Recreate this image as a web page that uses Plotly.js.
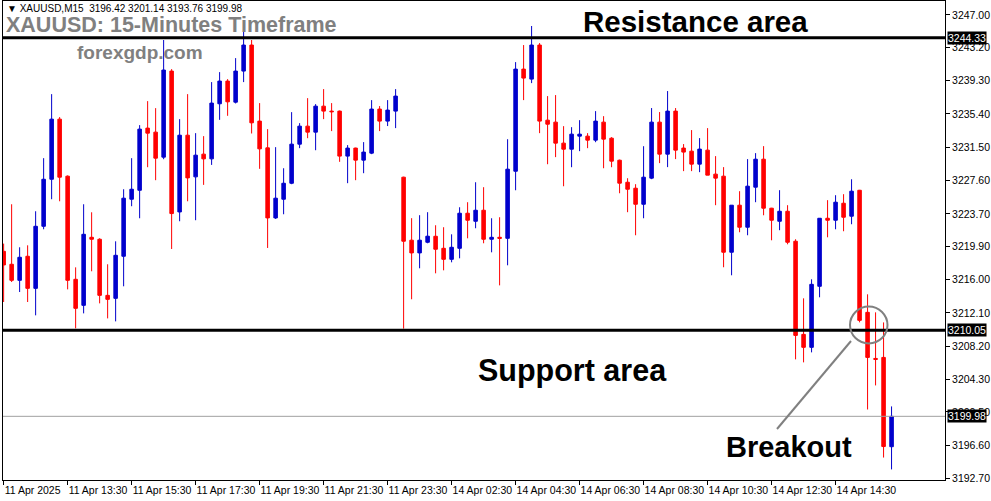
<!DOCTYPE html>
<html>
<head>
<meta charset="utf-8">
<script src="https://cdn.plot.ly/plotly-3.0.1.min.js"></script>
<style>
html,body{margin:0;padding:0;background:#fff;}
#chart{width:991px;height:501px;}
</style>
</head>
<body>
<div id="chart"></div>
<script>
// ---- data (XAUUSD M15 candles) ----
const opens = [3219.31,3217.79,3215.91,3218.73,3214.97,3222.24,3227.75,3234.79,3228.11,3216.03,
3212.98,3220.95,3220.72,3214.15,3213.80,3218.73,3225.41,3226.46,3233.74,3233.27,
3230.34,3240.42,3223.92,3232.91,3228.03,3230.69,3230.14,3236.59,3239.25,3236.78,
3240.42,3243.47,3234.56,3231.43,3223.22,3225.41,3227.28,3231.86,3233.97,3233.27,
3236.31,3235.73,3235.73,3230.46,3231.40,3229.99,3230.81,3235.97,3234.56,3235.73,
3227.99,3220.61,3219.12,3220.37,3221.07,3219.66,3218.37,3219.66,3223.77,3222.83,
3224.12,3220.72,3220.95,3220.83,3228.69,3240.65,3239.48,3243.47,3234.67,3234.44,
3231.98,3231.27,3232.80,3232.80,3232.33,3234.44,3232.56,3229.98,3227.40,3226.70,
3224.82,3227.88,3234.44,3230.69,3235.73,3231.40,3231.04,3229.52,3231.16,3228.35,
3228.11,3219.20,3224.71,3222.13,3226.82,3230.10,3224.36,3222.83,3224.00,3220.49,
3209.58,3208.06,3215.21,3223.18,3222.95,3224.94,3223.42,3226.46,3212.16,3206.76,
3206.88,3196.42];
const highs = [3220.21,3224.82,3219.78,3220.01,3224.00,3230.22,3237.72,3235.03,3228.20,3217.43,
3224.82,3223.88,3220.84,3217.79,3220.48,3226.58,3230.22,3234.09,3236.90,3236.08,
3244.06,3240.65,3234.79,3237.72,3233.15,3232.80,3239.13,3240.30,3239.48,3241.94,
3245.34,3244.06,3236.67,3233.62,3231.51,3229.04,3235.61,3234.32,3237.25,3236.55,
3238.31,3236.67,3235.80,3231.75,3231.45,3232.10,3237.02,3236.32,3237.02,3238.31,
3228.05,3223.19,3223.54,3223.89,3222.36,3222.13,3221.30,3224.47,3225.06,3227.40,
3226.82,3223.18,3223.30,3232.44,3241.47,3243.47,3245.70,3243.70,3237.49,3237.61,
3233.97,3233.85,3234.67,3233.15,3235.73,3235.14,3232.68,3230.05,3227.87,3227.17,
3231.62,3236.09,3235.62,3238.08,3236.09,3231.87,3233.51,3232.57,3233.74,3230.46,
3229.17,3224.71,3226.35,3230.11,3230.81,3231.63,3224.40,3226.47,3224.71,3220.72,
3213.80,3216.03,3223.18,3225.30,3225.88,3226.00,3227.75,3226.50,3214.27,3212.16,
3210.98,3201.14];
const lows = [3213.37,3215.71,3214.54,3213.37,3211.81,3221.89,3225.41,3225.17,3214.85,3210.28,
3212.04,3216.97,3213.21,3211.45,3211.10,3215.21,3224.59,3223.18,3229.16,3227.64,
3230.10,3219.58,3222.83,3225.17,3222.95,3227.09,3229.43,3234.71,3235.18,3236.63,
3239.13,3233.11,3228.97,3219.70,3223.10,3223.65,3227.17,3231.39,3232.56,3231.15,
3234.79,3233.39,3229.79,3227.29,3227.64,3228.46,3230.69,3233.39,3233.98,3233.74,
3210.25,3213.69,3217.32,3220.25,3216.73,3217.08,3218.02,3218.49,3220.83,3222.01,
3220.25,3219.19,3215.32,3217.67,3226.46,3237.02,3239.01,3233.15,3229.51,3230.34,
3226.93,3229.16,3231.04,3231.39,3232.09,3229.04,3229.16,3226.11,3223.89,3221.19,
3223.18,3227.76,3229.64,3229.17,3230.11,3228.70,3228.70,3228.58,3228.23,3224.71,
3217.44,3216.50,3221.54,3221.19,3225.06,3223.53,3220.60,3221.78,3220.13,3206.65,
3206.30,3207.47,3213.92,3220.95,3221.89,3221.66,3222.48,3210.99,3200.78,3203.60,
3195.15,3193.76];
const closes = [3217.71,3215.91,3218.61,3214.97,3222.24,3227.75,3234.79,3227.99,3215.91,3212.63,
3221.30,3220.72,3214.15,3213.68,3218.84,3225.53,3226.58,3233.62,3233.15,3230.22,
3240.54,3223.73,3232.91,3227.91,3230.57,3230.14,3236.67,3239.25,3236.82,3240.42,
3243.47,3234.36,3231.31,3223.22,3225.53,3227.28,3231.86,3233.97,3233.27,3236.31,
3235.73,3235.66,3230.46,3231.40,3229.99,3230.93,3235.97,3234.56,3235.85,3237.49,
3220.49,3219.12,3220.61,3221.08,3219.55,3218.37,3219.78,3223.77,3222.95,3224.12,
3220.72,3220.95,3220.83,3228.93,3240.65,3239.60,3243.47,3234.56,3234.20,3231.98,
3231.27,3233.03,3233.03,3232.33,3234.56,3232.45,3229.87,3227.29,3226.58,3224.82,
3227.99,3234.44,3230.69,3235.73,3231.16,3230.93,3229.52,3231.28,3228.23,3227.88,
3219.20,3224.71,3222.13,3226.94,3230.10,3224.36,3222.95,3224.00,3220.37,3209.46,
3208.06,3215.44,3223.18,3222.95,3225.06,3223.30,3226.35,3211.22,3206.88,3206.65,
3196.44,3199.98];

const tickIndex = [0,8,16,24,32,40,48,56,64,72,80,88,96,104];
const tickText = ["11 Apr 2025","11 Apr 13:30","11 Apr 15:30","11 Apr 17:30","11 Apr 19:30",
"11 Apr 21:30","11 Apr 23:30","14 Apr 02:30","14 Apr 04:30","14 Apr 06:30","14 Apr 08:30",
"14 Apr 10:30","14 Apr 12:30","14 Apr 14:30"];
const priceTicks = [3247.00,3243.20,3239.30,3235.40,3231.50,3227.60,3223.70,3219.90,3216.00,
3212.10,3208.20,3204.30,3200.50,3196.60,3192.70];

const resistanceLevel = 3244.33;
const supportLevel = 3210.05;
const lastPrice = 3199.98;
const symbol = "XAUUSD,M15";

// ---- build ----
const idx = opens.map((_, i) => i);
const n = opens.length;
const FONT = "Liberation Sans, Arial, sans-serif";

// pixel helpers for text placement (plot area: x 3..945, y 1..480)
const W = 942, H = 479, L = 3, T = 1;
const px = x => (x - L) / W;
const py = y => 1 - (y - T) / H;

const trace = {
  type: 'candlestick',
  x: idx, open: opens, high: highs, low: lows, close: closes,
  increasing: {line: {color: '#0000cc', width: 1}, fillcolor: '#0000cc'},
  decreasing: {line: {color: '#ff0000', width: 1}, fillcolor: '#ff0000'},
  whiskerwidth: 0,
  hoverinfo: 'skip'
};

const last = n - 1;
const header = "\u25BC " + symbol + "  " + opens[last].toFixed(2) + " " + highs[last].toFixed(2) +
  " " + lows[last].toFixed(2) + " " + closes[last].toFixed(2);

function tag(v) {
  return {xref: 'paper', yref: 'y', x: 1, y: v, xanchor: 'left', yanchor: 'middle',
    xshift: 2, text: v.toFixed(2), showarrow: false, bgcolor: '#000000',
    borderpad: 0, font: {family: FONT, size: 10.5, color: '#ffffff'}};
}

const layout = {
  width: 991, height: 501,
  margin: {l: L, r: 991 - L - W, t: T, b: 501 - T - H},
  paper_bgcolor: '#ffffff', plot_bgcolor: '#ffffff',
  showlegend: false, hovermode: false,
  boxgap: 0.37,
  font: {family: FONT, size: 10.5, color: '#000000'},
  xaxis: {
    range: [-0.08, 117.68], rangeslider: {visible: false},
    showgrid: false, zeroline: false,
    showline: true, linecolor: '#000000', linewidth: 1, mirror: true,
    tickmode: 'array', tickvals: tickIndex, ticktext: tickText,
    tickangle: 0, automargin: false,
    ticks: 'outside', ticklen: 4, tickcolor: '#000000',
    ticklabelposition: 'outside right', ticklabelstandoff: 0,
    tickfont: {family: FONT, size: 10.5, color: '#000000'}
  },
  yaxis: {
    side: 'right', range: [3192.52, 3248.63],
    showgrid: false, zeroline: false, automargin: false,
    showline: true, linecolor: '#000000', linewidth: 1, mirror: true,
    tickmode: 'array', tickvals: priceTicks, tickformat: '.2f',
    ticks: 'outside', ticklen: 4, tickcolor: '#000000',
    tickfont: {family: FONT, size: 10.5, color: '#000000'}
  },
  shapes: [
    {type: 'line', xref: 'paper', yref: 'y', x0: 0, x1: 1, y0: lastPrice, y1: lastPrice,
      line: {color: '#a0a0a0', width: 1}},
    {type: 'line', xref: 'paper', yref: 'y', x0: 0, x1: 1, y0: resistanceLevel, y1: resistanceLevel,
      line: {color: '#000000', width: 3}},
    {type: 'line', xref: 'paper', yref: 'y', x0: 0, x1: 1, y0: supportLevel, y1: supportLevel,
      line: {color: '#000000', width: 3}},
    {type: 'circle', xref: 'paper', yref: 'paper',
      x0: px(850), x1: px(887.5), y0: py(343.5), y1: py(306.5),
      line: {color: '#808080', width: 2}},
    {type: 'line', xref: 'paper', yref: 'paper',
      x0: px(777), y0: py(429), x1: px(851), y1: py(341),
      line: {color: '#808080', width: 2}}
  ],
  annotations: [
    {xref: 'paper', yref: 'paper', x: px(5), y: py(9), xanchor: 'left', yanchor: 'middle',
      text: header, showarrow: false, font: {family: FONT, size: 10, color: '#000000'}},
    {xref: 'paper', yref: 'paper', x: px(4), y: py(25), xanchor: 'left', yanchor: 'middle',
      text: '<b>XAUUSD: 15-Minutes Timeframe</b>', showarrow: false,
      font: {family: FONT, size: 21.5, color: '#808080'}},
    {xref: 'paper', yref: 'paper', x: px(75), y: py(52), xanchor: 'left', yanchor: 'middle',
      text: '<b>forexgdp.com</b>', showarrow: false,
      font: {family: FONT, size: 19, color: '#808080'}},
    {xref: 'paper', yref: 'paper', x: px(695.5), y: py(22), xanchor: 'center', yanchor: 'middle',
      text: '<b>Resistance area</b>', showarrow: false,
      font: {family: FONT, size: 29.5, color: '#000000'}},
    {xref: 'paper', yref: 'paper', x: px(572), y: py(370), xanchor: 'center', yanchor: 'middle',
      text: '<b>Support area</b>', showarrow: false,
      font: {family: FONT, size: 30.5, color: '#000000'}},
    {xref: 'paper', yref: 'paper', x: px(789), y: py(447), xanchor: 'center', yanchor: 'middle',
      text: '<b>Breakout</b>', showarrow: false,
      font: {family: FONT, size: 29, color: '#000000'}},
    tag(resistanceLevel), tag(supportLevel), tag(lastPrice)
  ]
};

Plotly.newPlot('chart', [trace], layout, {staticPlot: true, displayModeBar: false});
</script>
</body>
</html>
